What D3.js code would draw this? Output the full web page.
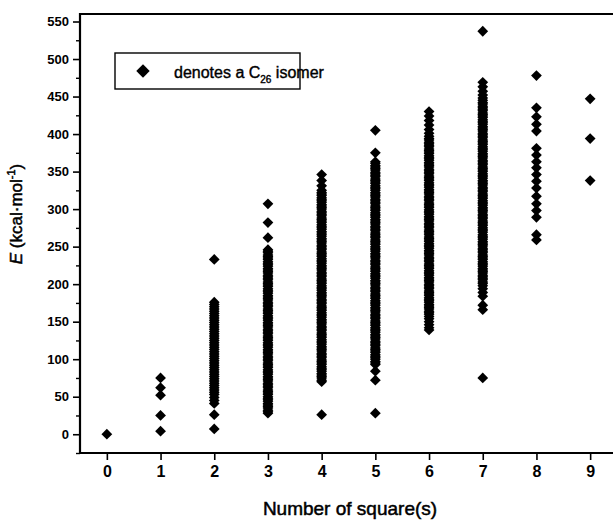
<!DOCTYPE html>
<html lang="en">
<head>
<meta charset="utf-8">
<title>C26 isomer energies</title>
<script src="https://d3js.org/d3.v7.min.js"></script>
<style>
  html, body { margin: 0; padding: 0; background: #fff; }
  svg { display: block; font-family: "Liberation Sans", Arial, sans-serif; }
  .ytick text { font-size: 13px; font-weight: bold; }
  .xtick text { font-size: 16px; font-weight: bold; }
</style>
</head>
<body>
<div id="chart"></div>
<script>
  // number of squares in the isomer
  const squares = [0, 1, 2, 3, 4, 5, 6, 7, 8, 9];

  // relative energies (kcal/mol) of the isomers, one list per square count
  const e0 = [0];
  const e1 = [75, 62, 52, 25, 4];
  const e2 = [233, 176, 173, 170, 167, 164, 161, 158, 155, 152, 149, 146, 143, 140, 137, 134, 131, 128,
    125, 122, 119, 116, 113, 110, 107, 104, 101, 98, 95, 92, 89, 86, 83, 80, 77, 74, 71, 68, 65, 62,
    59, 56, 53, 49, 45, 41, 26, 7];
  const e3 = [307, 282, 262, 246, 244, 242, 239, 237, 235, 233, 230, 228, 226, 224, 221, 219, 217, 215,
    212, 210, 208, 206, 203, 201, 199, 197, 194, 192, 190, 188, 185, 183, 181, 179, 176, 174, 172, 170,
    167, 165, 163, 161, 158, 156, 154, 152, 149, 147, 145, 143, 140, 138, 136, 134, 131, 129, 127, 125,
    122, 120, 118, 116, 113, 111, 109, 107, 104, 102, 100, 98, 95, 93, 91, 89, 86, 84, 82, 80, 77, 75,
    73, 71, 68, 66, 64, 62, 59, 57, 55, 53, 50, 48, 46, 44, 41, 39, 37, 35, 32, 30, 28];
  const e4 = [346, 338, 331, 325, 322, 320, 318, 315, 313, 311, 309, 306, 304, 302, 300, 297, 295, 293,
    291, 288, 286, 284, 282, 279, 277, 275, 273, 270, 268, 266, 264, 261, 259, 257, 255, 252, 250, 248,
    246, 243, 241, 239, 237, 234, 232, 230, 228, 225, 223, 221, 219, 216, 214, 212, 210, 207, 205, 203,
    201, 198, 196, 194, 192, 189, 187, 185, 183, 180, 178, 176, 174, 171, 169, 167, 165, 162, 160, 158,
    156, 153, 151, 149, 147, 144, 142, 140, 138, 135, 133, 131, 129, 126, 124, 122, 120, 117, 115, 113,
    111, 108, 106, 104, 102, 99, 97, 95, 93, 90, 88, 86, 84, 81, 79, 77, 75, 72, 70, 26];
  const e5 = [405, 375, 363, 361, 358, 356, 354, 352, 349, 347, 345, 343, 340, 338, 336, 334, 331, 329,
    327, 325, 322, 320, 318, 316, 313, 311, 309, 307, 304, 302, 300, 298, 295, 293, 291, 289, 286, 284,
    282, 280, 277, 275, 273, 271, 268, 266, 264, 262, 259, 257, 255, 253, 250, 248, 246, 244, 241, 239,
    237, 235, 232, 230, 228, 226, 223, 221, 219, 217, 214, 212, 210, 208, 205, 203, 201, 199, 196, 194,
    192, 190, 187, 185, 183, 181, 178, 176, 174, 172, 169, 167, 165, 163, 160, 158, 156, 154, 151, 149,
    147, 145, 142, 140, 138, 136, 133, 131, 129, 127, 124, 122, 120, 118, 115, 113, 111, 109, 106, 104,
    102, 100, 97, 95, 93, 84, 72, 28];
  const e6 = [430, 424, 418, 412, 406, 401, 397, 394, 392, 389, 387, 385, 383, 380, 378, 376, 374, 371,
    369, 367, 365, 362, 360, 358, 356, 353, 351, 349, 347, 344, 342, 340, 338, 335, 333, 331, 329, 326,
    324, 322, 320, 317, 315, 313, 311, 308, 306, 304, 302, 299, 297, 295, 293, 290, 288, 286, 284, 281,
    279, 277, 275, 272, 270, 268, 266, 263, 261, 259, 257, 254, 252, 250, 248, 245, 243, 241, 239, 236,
    234, 232, 230, 227, 225, 223, 221, 218, 216, 214, 212, 209, 207, 205, 203, 200, 198, 196, 194, 191,
    189, 187, 185, 182, 180, 178, 176, 173, 171, 169, 167, 164, 162, 160, 157, 154, 150, 146, 142, 139];
  const e7 = [537, 469, 463, 457, 452, 448, 445, 442, 440, 437, 435, 433, 431, 428, 426, 424, 422, 419,
    417, 415, 413, 410, 408, 406, 404, 401, 399, 397, 395, 392, 390, 388, 386, 383, 381, 379, 377, 374,
    372, 370, 368, 365, 363, 361, 359, 356, 354, 352, 350, 347, 345, 343, 341, 338, 336, 334, 332, 329,
    327, 325, 323, 320, 318, 316, 314, 311, 309, 307, 305, 302, 300, 298, 296, 293, 291, 289, 287, 284,
    282, 280, 278, 275, 273, 271, 269, 266, 264, 262, 260, 257, 255, 253, 251, 248, 246, 244, 242, 239,
    237, 235, 233, 230, 228, 226, 224, 221, 219, 217, 215, 212, 210, 208, 206, 203, 201, 198, 194, 189,
    184, 172, 166, 75];
  const e8 = [478, 435, 423, 413, 404, 381, 372, 363, 355, 346, 337, 328, 317, 307, 298, 289, 266, 259];
  const e9 = [447, 394, 338];
  const energies = [e0, e1, e2, e3, e4, e5, e6, e7, e8, e9];

  const yTicks = [0, 50, 100, 150, 200, 250, 300, 350, 400, 450, 500, 550];
  const yMinor = [-25, 25, 75, 125, 175, 225, 275, 325, 375, 425, 475, 525];

  const width = 613, height = 521;
  const margin = {left: 80, right: -4, top: 14, bottom: 68};

  const x = d3.scaleLinear().domain([-0.5, 9.5]).range([margin.left, width - margin.right]);
  const y = d3.scaleLinear().domain([-25, 560]).range([height - margin.bottom, margin.top]);

  const svg = d3.select("#chart").append("svg")
      .attr("width", width)
      .attr("height", height);

  const points = squares.flatMap((s, i) => energies[i].map(v => ({s, v})));
  const diamond = d3.symbol().type(d3.symbolSquare).size(58);

  svg.append("g")
      .selectAll("path")
      .data(points)
      .join("path")
      .attr("d", diamond)
      .attr("transform", d => `translate(${x(d.s)},${y(d.v)}) rotate(45)`)
      .attr("fill", "#000");

  // y axis with major and minor ticks
  const yAxis = svg.append("g")
      .attr("class", "ytick")
      .attr("transform", `translate(${margin.left},0)`)
      .call(d3.axisLeft(y).tickValues(yTicks).tickSize(7).tickPadding(4));
  yAxis.select(".domain").remove();
  yAxis.selectAll("line").attr("stroke-width", 1.6);
  svg.append("g")
      .attr("transform", `translate(${margin.left},0)`)
      .call(d3.axisLeft(y).tickValues(yMinor).tickSize(4).tickFormat(""))
      .call(g => g.select(".domain").remove())
      .call(g => g.selectAll("line").attr("stroke-width", 1.4));

  // x axis
  const xAxis = svg.append("g")
      .attr("class", "xtick")
      .attr("transform", `translate(0,${height - margin.bottom})`)
      .call(d3.axisBottom(x).tickValues(squares).tickSize(7).tickPadding(6).tickFormat(d3.format("d")));
  xAxis.select(".domain").remove();
  xAxis.selectAll("line").attr("stroke-width", 1.6);

  // frame (top, left, bottom)
  const x0 = x.range()[0], x1 = x.range()[1], yb = y.range()[0], yt = y.range()[1];
  svg.append("path")
      .attr("d", `M${x1},${yt}H${x0}V${yb}H${x1}`)
      .attr("fill", "none")
      .attr("stroke", "#000")
      .attr("stroke-width", 2.2);

  // axis titles
  svg.append("text")
      .attr("x", 350)
      .attr("y", 515)
      .attr("text-anchor", "middle")
      .attr("font-size", 19)
      .attr("stroke", "#000")
      .attr("stroke-width", 0.5)
      .text("Number of square(s)");

  const yt2 = svg.append("text")
      .attr("transform", "translate(22,214) rotate(-90)")
      .attr("text-anchor", "middle")
      .attr("font-size", 17)
      .attr("stroke", "#000")
      .attr("stroke-width", 0.5);
  yt2.append("tspan").attr("font-style", "italic").text("E");
  yt2.append("tspan").text(" (kcal·mol");
  yt2.append("tspan").attr("font-size", 11).attr("dy", -7).text("-1");
  yt2.append("tspan").attr("dy", 7).text(")");

  // legend
  const lg = svg.append("g");
  lg.append("rect")
      .attr("x", 115).attr("y", 53).attr("width", 185).attr("height", 36)
      .attr("fill", "#fff").attr("stroke", "#000").attr("stroke-width", 1.4);
  lg.append("path")
      .attr("d", d3.symbol().type(d3.symbolSquare).size(90))
      .attr("transform", "translate(143,71) rotate(45)");
  const lt = lg.append("text")
      .attr("x", 174).attr("y", 78)
      .attr("font-size", 16)
      .attr("stroke", "#000")
      .attr("stroke-width", 0.4);
  lt.append("tspan").text("denotes a C");
  lt.append("tspan").attr("font-size", 10).attr("dy", 5).text("26");
  lt.append("tspan").attr("dy", -5).text(" isomer");
</script>
</body>
</html>
